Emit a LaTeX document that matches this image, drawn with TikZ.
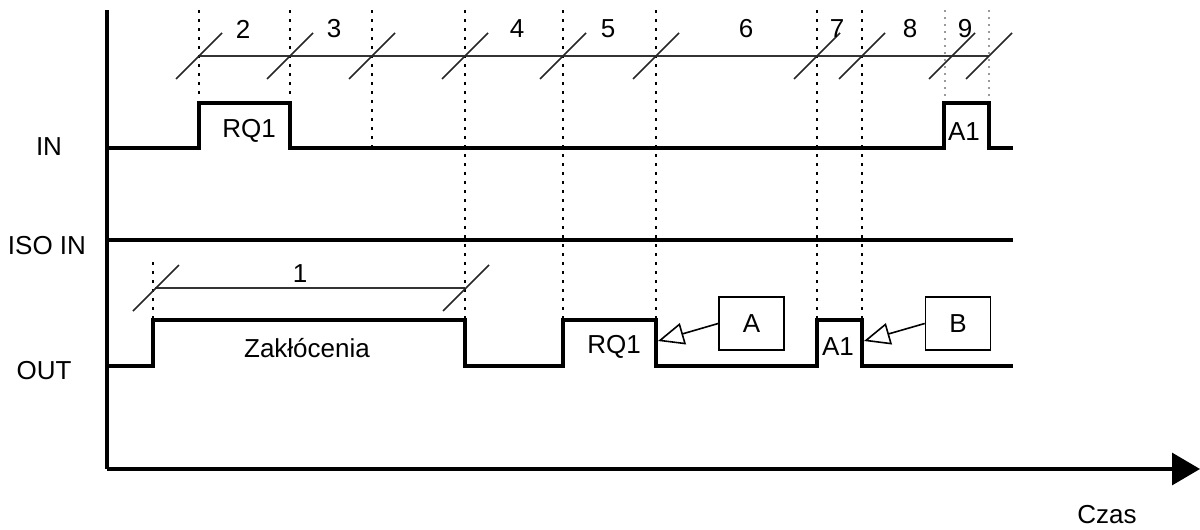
\documentclass[tikz,border=0pt]{standalone}
\usepackage{fontspec}
\setmainfont{Liberation Sans}
\usetikzlibrary{arrows.meta}
\begin{document}
\begin{tikzpicture}[x=1pt,y=-1pt,
  sig/.style={line width=3.2pt, line join=miter},
  axisline/.style={line width=3.2pt},
  dimline/.style={line width=1.4pt, black!80},
  slash/.style={line width=1.6pt, black!85},
  vdot/.style={line width=2pt, dash pattern=on 3pt off 6pt},
  vdotlight/.style={line width=1.8pt, black!40, dash pattern=on 2pt off 5pt},
  lbl/.style={font=\fontsize{26}{30}\selectfont, inner sep=0pt},
  callbox/.style={draw, line width=1.6pt, minimum width=65pt, minimum height=53pt, inner sep=0pt, font=\fontsize{26}{30}\selectfont},
  callout/.style={line width=1.6pt, -{Triangle[open, length=26pt, width=22pt, line width=1.6pt]}}]
\useasboundingbox (0,0) rectangle (1200,530);

% dotted guide lines
\foreach \x in {199,290} \draw[vdot] (\x,10) -- (\x,96);
\draw[vdot] (372,10) -- (372,147);
\foreach \x in {465,563,656,817,862} \draw[vdot] (\x,10) -- (\x,318);
\foreach \x in {945,989} \draw[vdotlight] (\x,10) -- (\x,96);
\draw[vdot] (153,262) -- (153,318);

% dimension lines
\draw[dimline] (199,56) -- (989,56);
\foreach \x in {199,290,372,465,563,656,817,862,952,989}
  \draw[slash] (\x-23,79) -- (\x+23,33);
\draw[dimline] (155,288) -- (465,288);
\foreach \x in {156,466}
  \draw[slash] (\x-23,311) -- (\x+23,265);

% axes
\draw[axisline] (107,10) -- (107,469);
\draw[axisline, -{Triangle[length=28pt, width=32pt]}] (107,469) -- (1200,469);

% signals
\draw[sig] (107,148) -- (199,148) -- (199,103) -- (290,103) -- (290,148)
  -- (944,148) -- (944,103) -- (989,103) -- (989,148) -- (1013,148);
\draw[sig] (107,240) -- (1013,240);
\draw[sig] (107,366) -- (153,366) -- (153,320) -- (465,320) -- (465,366)
  -- (563,366) -- (563,320) -- (656,320) -- (656,366)
  -- (817,366) -- (817,320) -- (862,320) -- (862,366) -- (1013,366);

% row labels
\node[lbl] (lin) at (49,147) {IN};
\node[lbl] (liso) at (47,246) {ISO IN};
\node[lbl] (lout) at (44,371) {OUT};
\node[lbl] (lczas) at (1107,515) {Czas};

% interval numbers
\node[lbl] (n2) at (243,29) {2};
\node[lbl] (n3) at (334,29) {3};
\node[lbl] (n4) at (517,29) {4};
\node[lbl] (n5) at (608,29) {5};
\node[lbl] (n6) at (746,29) {6};
\node[lbl] (n7) at (837,29) {7};
\node[lbl] (n8) at (910,29) {8};
\node[lbl] (n9) at (965,29) {9};
\node[lbl] (n1) at (300,274) {1};

% pulse labels
\node[lbl] (rqin) at (249,131) {RQ1};
\node[lbl] (a1in) at (964,132) {A1};
\node[lbl] (zak) at (307,348) {Zakłócenia};
\node[lbl] (rqout) at (614,347) {RQ1};
\node[lbl] (a1out) at (838,347) {A1};

% callouts
\node[callbox] (A) at (751.5,323.5) {A};
\node[callbox] (B) at (958,323.5) {B};
\coordinate (tipA) at (658,341);
\coordinate (tipB) at (864,341);
\draw[callout] (A.west) -- (tipA);
\draw[callout] (B.west) -- (tipB);
\end{tikzpicture}
\end{document}
